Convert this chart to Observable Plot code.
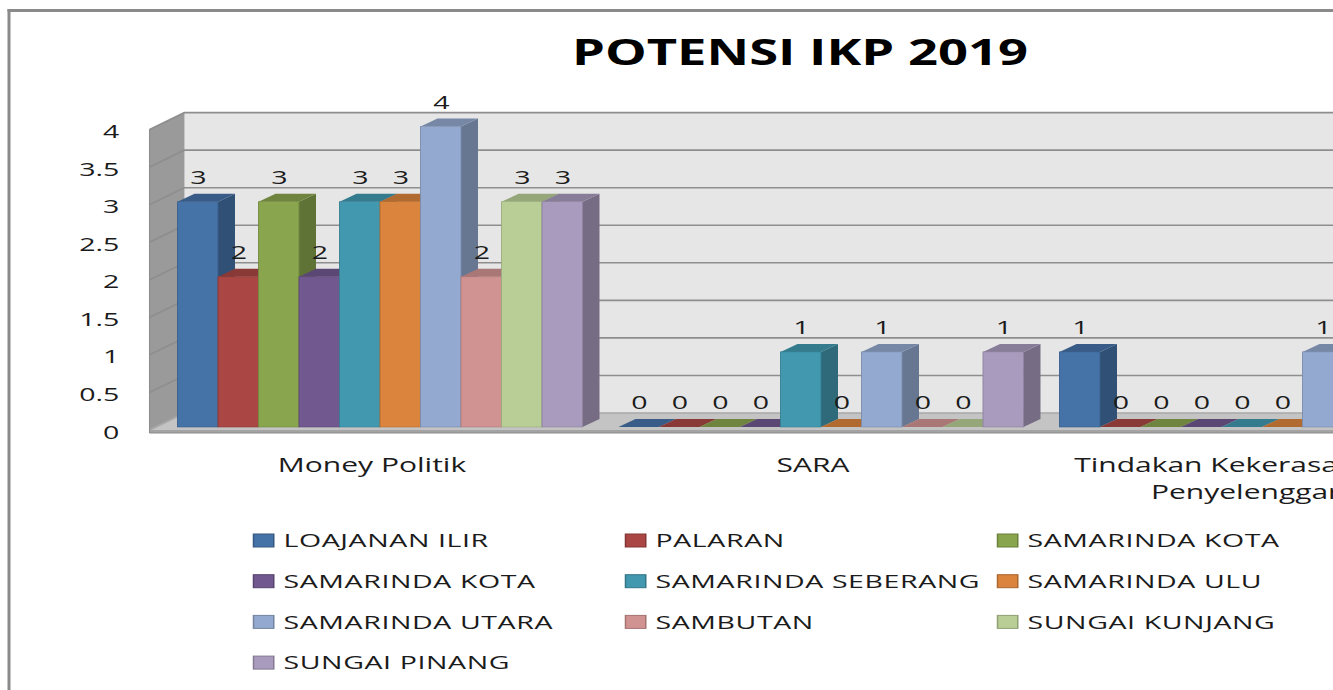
<!DOCTYPE html>
<html>
<head>
<meta charset="utf-8">
<script src="https://cdn.jsdelivr.net/npm/d3@7"></script>
<script src="https://cdn.jsdelivr.net/npm/@observablehq/plot@0.6"></script>
<style>
html, body { margin: 0; padding: 0; background: #fff; overflow: hidden; width: 1333px; height: 690px; }
#stage { position: absolute; left: 0; top: 0; width: 1100px; height: 690px; transform: scale(1.5, 1); transform-origin: 0 0; font-family: "Open Sans", sans-serif; }
#border { position: absolute; left: 4.7px; top: 9px; width: 1300px; height: 900px; border-left: 2px solid #8a8a8a; border-top: 3px solid #8a8a8a; }
#chart { position: absolute; left: 0; top: 90px; }
#overlay { position: absolute; left: 0; top: 0; }
</style>
</head>
<body>
<div id="stage">
  <div id="border"></div>
  <svg id="overlay" width="1100" height="690"></svg>
  <div id="chart"></div>
</div>
<script>
// ---------------- DATA ----------------
const title = "POTENSI IKP 2019";
const categories = ["Money Politik", "SARA", "Tindakan Kekerasan Pada\nPenyelenggara"];
const seriesNames = ["LOAJANAN ILIR", "PALARAN", "SAMARINDA KOTA", "SAMARINDA KOTA", "SAMARINDA SEBERANG",
                     "SAMARINDA ULU", "SAMARINDA UTARA", "SAMBUTAN", "SUNGAI KUNJANG", "SUNGAI PINANG"];
const seriesColors = ["#4572A7", "#AA4643", "#89A54E", "#71588F", "#4198AF",
                      "#DB843D", "#93A9CF", "#D19392", "#B9CD96", "#A99BBD"];
const moneyPolitik      = [3, 2, 3, 2, 3, 3, 4, 2, 3, 3];
const sara              = [0, 0, 0, 0, 1, 0, 1, 0, 0, 1];
const tindakanKekerasan = [1, 0, 0, 0, 0, 0, 1, 0, 0, 0];
const yTicks = [0, 0.5, 1, 1.5, 2, 2.5, 3, 3.5, 4];

const valuesByCategory = [moneyPolitik, sara, tindakanKekerasan];
const data = categories.flatMap((c, ci) => seriesNames.map((s, si) => ({
  category: c, idx: si, series: s, value: valuesByCategory[ci][si], color: seriesColors[si]
})));

// ---------------- LAYOUT (unscaled units; stage is stretched 1.5x horizontally) ----------------
const SX = 1.5;
const left = 175 / SX;          // first band start
const step = 441.5 / SX;        // category step
const bandW = 410 / SX;         // 10 bars
const pInner = (step - bandW) / step;
const W = 1060;
const marginRight = W - left - step * (3 - pInner);
const H = 420;
const depth = { dx: 17 / SX, dy: -8 };

const chart = Plot.plot({
  width: W, height: H,
  marginLeft: left, marginRight, marginTop: 36.6, marginBottom: H - 337,
  style: { fontFamily: "'Open Sans', sans-serif", color: "#1b1b1b", background: "transparent", overflow: "visible" },
  fx: { domain: categories, paddingInner: pInner, paddingOuter: 0 },
  x: { domain: d3.range(seriesNames.length), padding: 0, axis: null },
  y: { domain: [0, 4] },
  color: { type: "identity" },
  marks: [
    Plot.barY(data, { fx: "category", x: "idx", y: "value", fill: "color",
      stroke: d => d3.color(d.color).darker(0.5).formatHex(), strokeWidth: 0.6 }),
    Plot.text(data, { fx: "category", x: "idx", y: "value", text: d => String(d.value),
      dy: -24.5, fontSize: 19, fill: "#1b1b1b" }),
    Plot.axisY({ ticks: yTicks, tickFormat: d => String(d), tickSize: 0, tickPadding: 38, dy: 5, fontSize: 19, label: null }),
    Plot.axisFx({ anchor: "bottom", tickSize: 0, tickPadding: 25, dx: -6, fontSize: 20, lineHeight: 1.35, label: null })
  ]
});
document.getElementById("chart").appendChild(chart);

// ---------------- 3D decoration using Plot's scales ----------------
const ns = "http://www.w3.org/2000/svg";
const svg = d3.select(chart);
const yS = chart.scale("y");
const fxS = chart.scale("fx");
const X0 = fxS.apply(categories[0]);
const wfx = X0 - 26 / SX, wbx = X0 + 9 / SX;
const fdy = 3, bdy = -14;
const xr = W + 50;
const y4 = yS.apply(4), y0 = yS.apply(0);

const walls = svg.insert("g", ":first-child").attr("aria-label", "walls");
walls.append("rect").attr("x", wbx).attr("y", y4 + bdy).attr("width", xr - wbx).attr("height", y0 - y4).attr("fill", "#e6e6e6");
walls.append("polygon").attr("points", [[wfx, y4 + fdy], [wbx, y4 + bdy], [wbx, y0 + bdy], [wfx, y0 + fdy]].join(" "))
  .attr("fill", "#9a9a9a");
walls.append("polygon").attr("points", [[wfx, y0 + fdy], [xr, y0 + fdy], [xr, y0 + bdy], [wbx, y0 + bdy]].join(" "))
  .attr("fill", "#c4c4c4");
walls.append("rect").attr("x", wfx).attr("y", y0 + fdy).attr("width", xr - wfx).attr("height", 3).attr("fill", "#a3a3a3");
walls.append("line").attr("x1", wfx).attr("x2", xr).attr("y1", y0 + fdy + 3).attr("y2", y0 + fdy + 3).attr("stroke", "#8c8c8c").attr("stroke-width", 1);
for (const v of yTicks) {
  const yy = yS.apply(v);
  walls.append("polyline").attr("points", [[wfx, yy + fdy], [wbx, yy + bdy], [xr, yy + bdy]].join(" "))
    .attr("fill", "none").attr("stroke", v === 0 ? "#a8a8a8" : "#8e8e8e").attr("stroke-width", 1.6);
}
walls.append("line").attr("x1", wfx).attr("x2", wfx).attr("y1", y4 + fdy).attr("y2", y0 + fdy + 3).attr("stroke", "#8c8c8c").attr("stroke-width", 0.7);

svg.selectAll('g[aria-label="bar"] rect').each(function () {
  const x = +this.getAttribute("x"), y = +this.getAttribute("y");
  const w = +this.getAttribute("width"), h = +this.getAttribute("height");
  const c = this.getAttribute("fill");
  const p = this.parentNode;
  const side = document.createElementNS(ns, "polygon");
  side.setAttribute("points", [[x + w, y], [x + w + depth.dx, y + depth.dy], [x + w + depth.dx, y + h + depth.dy], [x + w, y + h]].join(" "));
  side.setAttribute("fill", d3.color(c).darker(1).formatHex());
  side.setAttribute("stroke", "none");
  const top = document.createElementNS(ns, "polygon");
  top.setAttribute("points", [[x, y], [x + w, y], [x + w + depth.dx, y + depth.dy], [x + depth.dx, y + depth.dy]].join(" "));
  top.setAttribute("fill", d3.color(c).darker(0.6).formatHex());
  top.setAttribute("stroke", "none");
  p.insertBefore(side, this);
  p.insertBefore(top, this);
});

// ---------------- Title & legend ----------------
const ov = d3.select("#overlay");
ov.append("text").attr("x", 800 / SX).attr("y", 65).attr("text-anchor", "middle")
  .attr("font-family", "'Open Sans', sans-serif").attr("font-weight", 700).attr("font-size", 35).attr("fill", "#000")
  .text(title);
const leg = ov.append("g").attr("font-family", "'Open Sans', sans-serif").attr("font-size", 19).attr("fill", "#1b1b1b");
seriesNames.forEach((s, i) => {
  const col = i % 3, row = Math.floor(i / 3);
  const sx = 169 + col * 248, cy = 540.5 + row * 40.7;
  leg.append("rect").attr("x", sx).attr("y", cy - 6.5).attr("width", 13.5).attr("height", 13)
    .attr("fill", seriesColors[i]).attr("stroke", d3.color(seriesColors[i]).darker(0.7).formatHex()).attr("stroke-width", 1);
  leg.append("text").attr("x", sx + 20).attr("y", cy).attr("dy", "0.36em").attr("letter-spacing", 0.4).text(s);
});
</script>
</body>
</html>
